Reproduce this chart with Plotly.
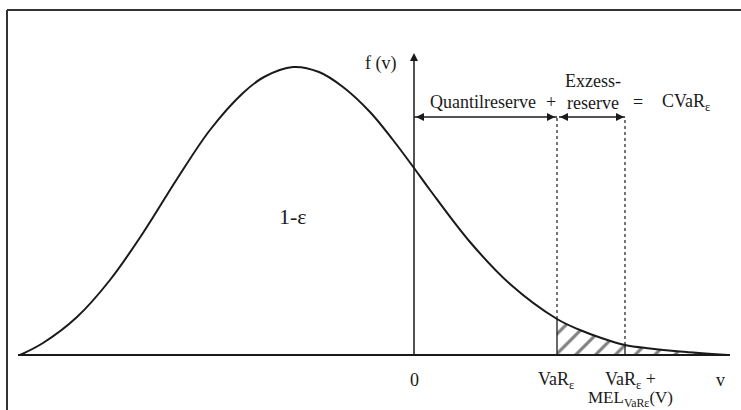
import plotly.graph_objects as go

# Density curve (v: horizontal units, f: density units)
curve_v = [-3.94, -3.71, -3.37, -3.04, -2.71, -2.37, -2.04, -1.71, -1.50, -1.21,
           -0.95, -0.71, -0.44, -0.21, 0.0, 0.16, 0.56, 0.96, 1.43, 1.66, 1.86, 2.11,
           2.36, 2.66, 3.14]
curve_f = [0.0, 0.12, 0.38, 0.75, 1.22, 1.76, 2.25, 2.62, 2.78, 2.88,
           2.83, 2.68, 2.43, 2.15, 1.87, 1.65, 1.13, 0.71, 0.36, 0.25, 0.175, 0.10,
           0.065, 0.035, 0.0]

var_idx = 18        # VaR_eps
var_mel_idx = 21    # VaR_eps + MEL
axis_top = 3.02
bracket_f = 2.38

tick_labels = ["0", "VaR<sub>ε</sub>", "VaR<sub>ε</sub> +", "v"]
tick_pos = [0.0, 1.42, 2.16, 3.06]

FONT = "Liberation Serif"
INK = "#1a1a1a"

fig = go.Figure()

# hatched tail
tail_v = curve_v[var_idx:] + [curve_v[-1], curve_v[var_idx]]
tail_f = curve_f[var_idx:] + [0.0, 0.0]
fig.add_trace(go.Scatter(
    x=tail_v, y=tail_f, mode="lines", fill="toself",
    line=dict(width=0, color="rgba(0,0,0,0)"),
    fillcolor="white",
    fillpattern=dict(shape="/", fgcolor="#000", bgcolor="white", size=14, solidity=0.22),
    hoverinfo="skip", showlegend=False))

# curve
fig.add_trace(go.Scatter(
    x=curve_v, y=curve_f, mode="lines",
    line=dict(color=INK, width=2, shape="spline", smoothing=1.0),
    hoverinfo="skip", showlegend=False))

# arrowheads (axis top, bracket ends)
v_var = curve_v[var_idx]
v_mel = curve_v[var_mel_idx]
fig.add_trace(go.Scatter(
    x=[0, 0.02, v_var - 0.02, v_var + 0.03, v_mel - 0.01],
    y=[axis_top, bracket_f, bracket_f, bracket_f, bracket_f],
    mode="markers",
    marker=dict(symbol=["arrow-up", "arrow-left", "arrow-right", "arrow-left", "arrow-right"],
                size=8, color=INK, line=dict(width=0)),
    hoverinfo="skip", showlegend=False))

shapes = []
# baseline
shapes.append(dict(type="line", xref="x", yref="y", x0=-3.96, x1=3.16, y0=0, y1=0,
                   line=dict(color=INK, width=2)))
# vertical axis
shapes.append(dict(type="line", xref="x", yref="y", x0=0, x1=0, y0=0, y1=axis_top - 0.04,
                   line=dict(color=INK, width=1.5)))
# bracket lines
shapes.append(dict(type="line", xref="x", yref="y", x0=0, x1=v_var, y0=bracket_f, y1=bracket_f,
                   line=dict(color=INK, width=1.5)))
shapes.append(dict(type="line", xref="x", yref="y", x0=v_var + 0.02, x1=v_mel, y0=bracket_f,
                   y1=bracket_f, line=dict(color=INK, width=1.5)))
# solid verticals under curve, dotted above
for i in (var_idx, var_mel_idx):
    shapes.append(dict(type="line", xref="x", yref="y", x0=curve_v[i], x1=curve_v[i],
                       y0=0, y1=curve_f[i], line=dict(color=INK, width=1.3)))
    shapes.append(dict(type="line", xref="x", yref="y", x0=curve_v[i], x1=curve_v[i],
                       y0=curve_f[i], y1=bracket_f, line=dict(color=INK, width=1.2, dash="dot")))
# frame (top and left)
shapes.append(dict(type="line", xref="paper", yref="paper", x0=7/741, x1=1.0,
                   y0=1-10/410, y1=1-10/410, line=dict(color="#333", width=2)))
shapes.append(dict(type="line", xref="paper", yref="paper", x0=7/741, x1=7/741,
                   y0=0, y1=1-10/410, line=dict(color="#333", width=2)))

ann = []

def txt(x, y, s, size=18, xanchor="center"):
    ann.append(dict(x=x, y=y, xref="x", yref="y", text=s, showarrow=False,
                    xanchor=xanchor, yanchor="middle",
                    font=dict(family=FONT, size=size, color=INK)))

txt(-0.16, 2.92, "f (v)", 18, "right")
txt(0.69, 2.53, "Quantilreserve")
txt(1.37, 2.53, "+")
txt(1.79, 2.74, "Exzess-")
txt(1.79, 2.52, "reserve")
txt(2.24, 2.53, "=")
txt(2.72, 2.53, "CVaR<sub>ε</sub>")
txt(-1.21, 1.39, "1-ε", 22)
for p, s in zip(tick_pos, tick_labels):
    txt(p, -0.25, s)
txt(2.16, -0.44, "MEL<sub>VaRε</sub>(V)", 17)

fig.update_layout(
    width=741, height=410, margin=dict(l=0, r=0, t=0, b=0),
    paper_bgcolor="white", plot_bgcolor="white",
    xaxis=dict(range=[-4.14, 3.27], visible=False, fixedrange=True),
    yaxis=dict(range=[-0.55, 3.55], visible=False, fixedrange=True),
    shapes=shapes, annotations=ann, showlegend=False)

fig.write_html("out.html", config={"displayModeBar": False},
               post_script="document.body.style.margin='0';document.body.style.overflow='hidden';")
